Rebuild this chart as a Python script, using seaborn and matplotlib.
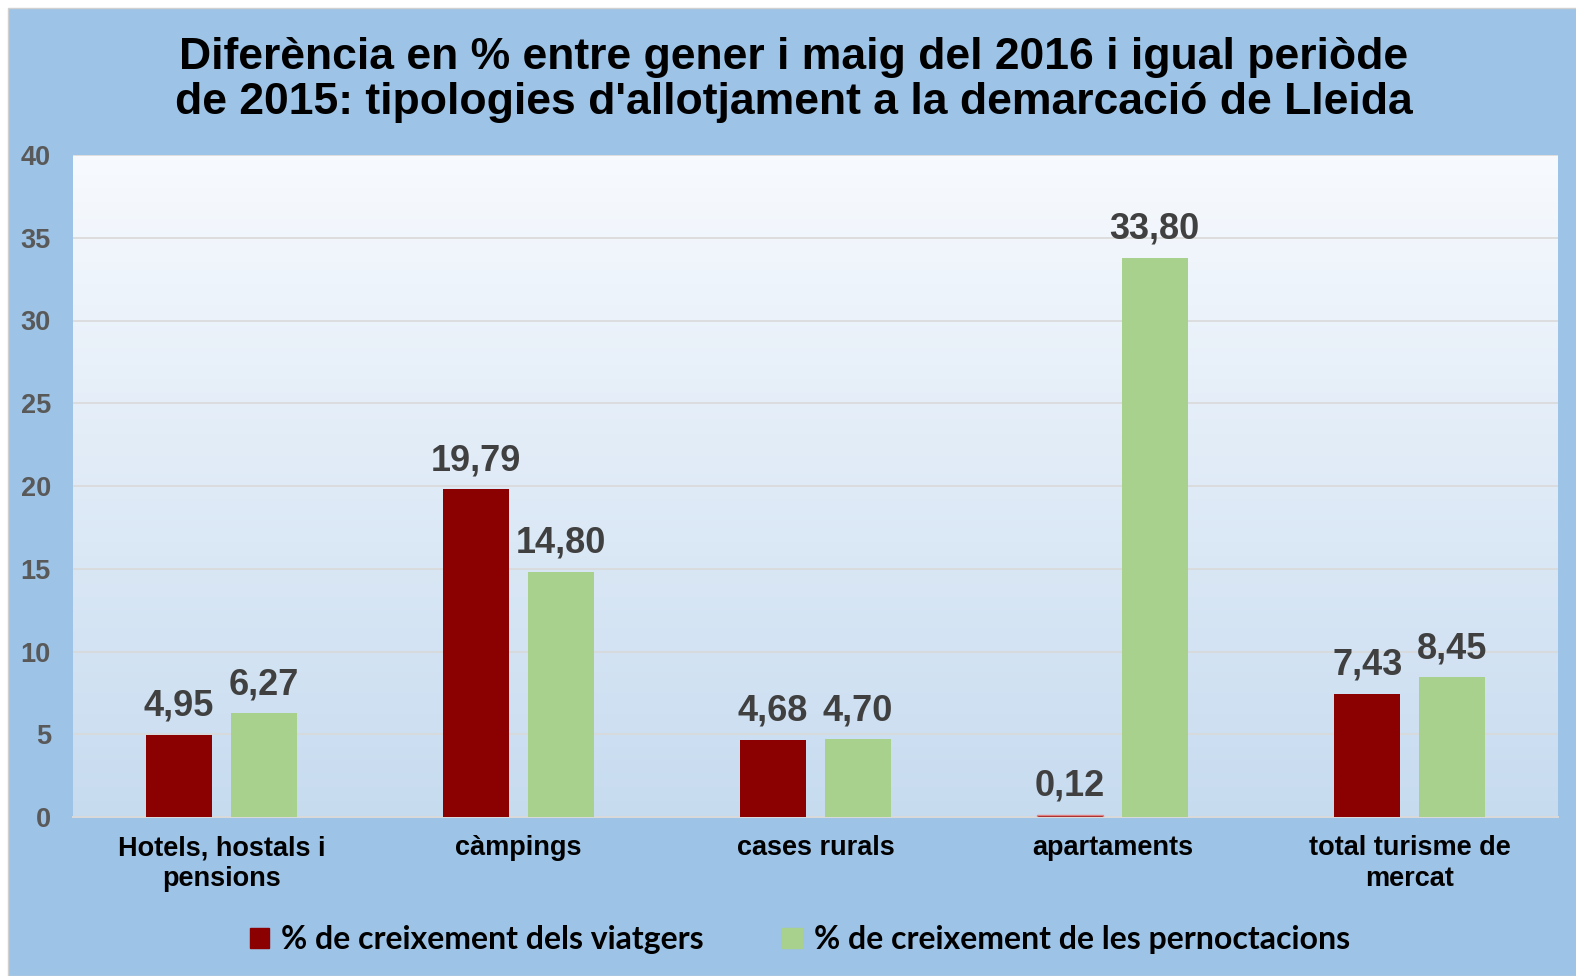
import numpy as np
import pandas as pd
import seaborn as sns
import matplotlib.pyplot as plt
from matplotlib.patches import Rectangle

# dades
categories = ["Hotels, hostals i\npensions", "càmpings", "cases rurals",
              "apartaments", "total turisme de\nmercat"]
viatgers = [4.95, 19.79, 4.68, 0.12, 7.43]
pernoctacions = [6.27, 14.80, 4.70, 33.80, 8.45]
series_names = ["% de creixement dels viatgers",
                "% de creixement de les pernoctacions"]
colors = ["#8B0000", "#A9D18E"]

df = pd.DataFrame({
    "cat": categories * 2,
    "val": viatgers + pernoctacions,
    "serie": [series_names[0]] * 5 + [series_names[1]] * 5,
})

sns.set_style("white")
plt.rcParams["font.family"] = ["Liberation Sans", "DejaVu Sans"]

fig = plt.figure(figsize=(15.76, 9.76), dpi=100)
fig.patch.set_facecolor("white")
# fons blau del gràfic
fig.patches.append(Rectangle((8 / 1576, 0), 1, 1 - 8 / 976, transform=fig.transFigure,
                             facecolor="#9DC3E6", edgecolor="#D0D0D0", lw=1, zorder=-10))

ax = fig.add_axes([73 / 1576, 1 - 817 / 976, (1558 - 73) / 1576, (817 - 155) / 976])

# degradat de fons a l'àrea del gràfic
grad = np.linspace(0, 1, 256).reshape(-1, 1)
top = np.array([0.97, 0.98, 0.995])
bot = np.array([0.78, 0.86, 0.94])
img = top + (bot - top) * grad[:, :, None] * np.ones((1, 1, 3))
ax.imshow(img, extent=[-0.5, 4.5, 0, 40], aspect="auto", origin="upper", zorder=0)

sns.barplot(data=df, x="cat", y="val", hue="serie", palette=colors,
            width=0.57, gap=0.22, ax=ax, zorder=3, legend=True, saturation=1,
            linewidth=0)

ax.set_xlim(-0.5, 4.5)
ax.set_ylim(0, 40)
ax.set_yticks(range(0, 41, 5))
ax.yaxis.grid(True, color="#D9D9D9", lw=1.2, zorder=1)
ax.set_axisbelow(True)
for s in ["top", "right", "left"]:
    ax.spines[s].set_visible(False)
ax.spines["bottom"].set_color("#D9D9D9")
ax.spines["bottom"].set_linewidth(1.5)
ax.set_xlabel("")
ax.set_ylabel("")
ax.tick_params(axis="y", length=0, pad=16, labelsize=19.5, labelcolor="#595959")
ax.tick_params(axis="x", length=0, pad=13, labelsize=19.5, labelcolor="black")
for t in ax.get_yticklabels() + ax.get_xticklabels():
    t.set_fontweight("bold")
for t in ax.get_xticklabels():
    t.set_linespacing(1.25)

# etiquetes de valors
for cont in ax.containers:
    ax.bar_label(cont, labels=[f"{v:.2f}".replace(".", ",") for v in cont.datavalues],
                 padding=8, fontsize=26, fontweight="bold", color="#404040")

# barra petita d'apartaments
ax.patches[3].set_edgecolor("#E08080")
ax.patches[3].set_linewidth(1)

ax.legend_.remove()
handles = [Rectangle((0, 0), 1, 1, color=c) for c in colors]
fig.legend(handles, series_names, loc="center", bbox_to_anchor=(0.5076, 1 - 940 / 976),
           ncol=2, frameon=False, handlelength=0.6, handleheight=0.6,
           columnspacing=2.45, handletextpad=0.4, labelcolor="black",
           prop={"family": ["Lato", "DejaVu Sans"], "weight": "bold", "size": 23})

fig.text(0.5035, 1 - 80 / 976,
         "Diferència en % entre gener i maig del 2016 i igual periòde\n"
         "de 2015: tipologies d'allotjament a la demarcació de Lleida",
         ha="center", va="center", fontsize=32, fontweight="bold",
         linespacing=1.15, color="black")

fig.savefig("out.png", dpi=100, facecolor=fig.get_facecolor())
